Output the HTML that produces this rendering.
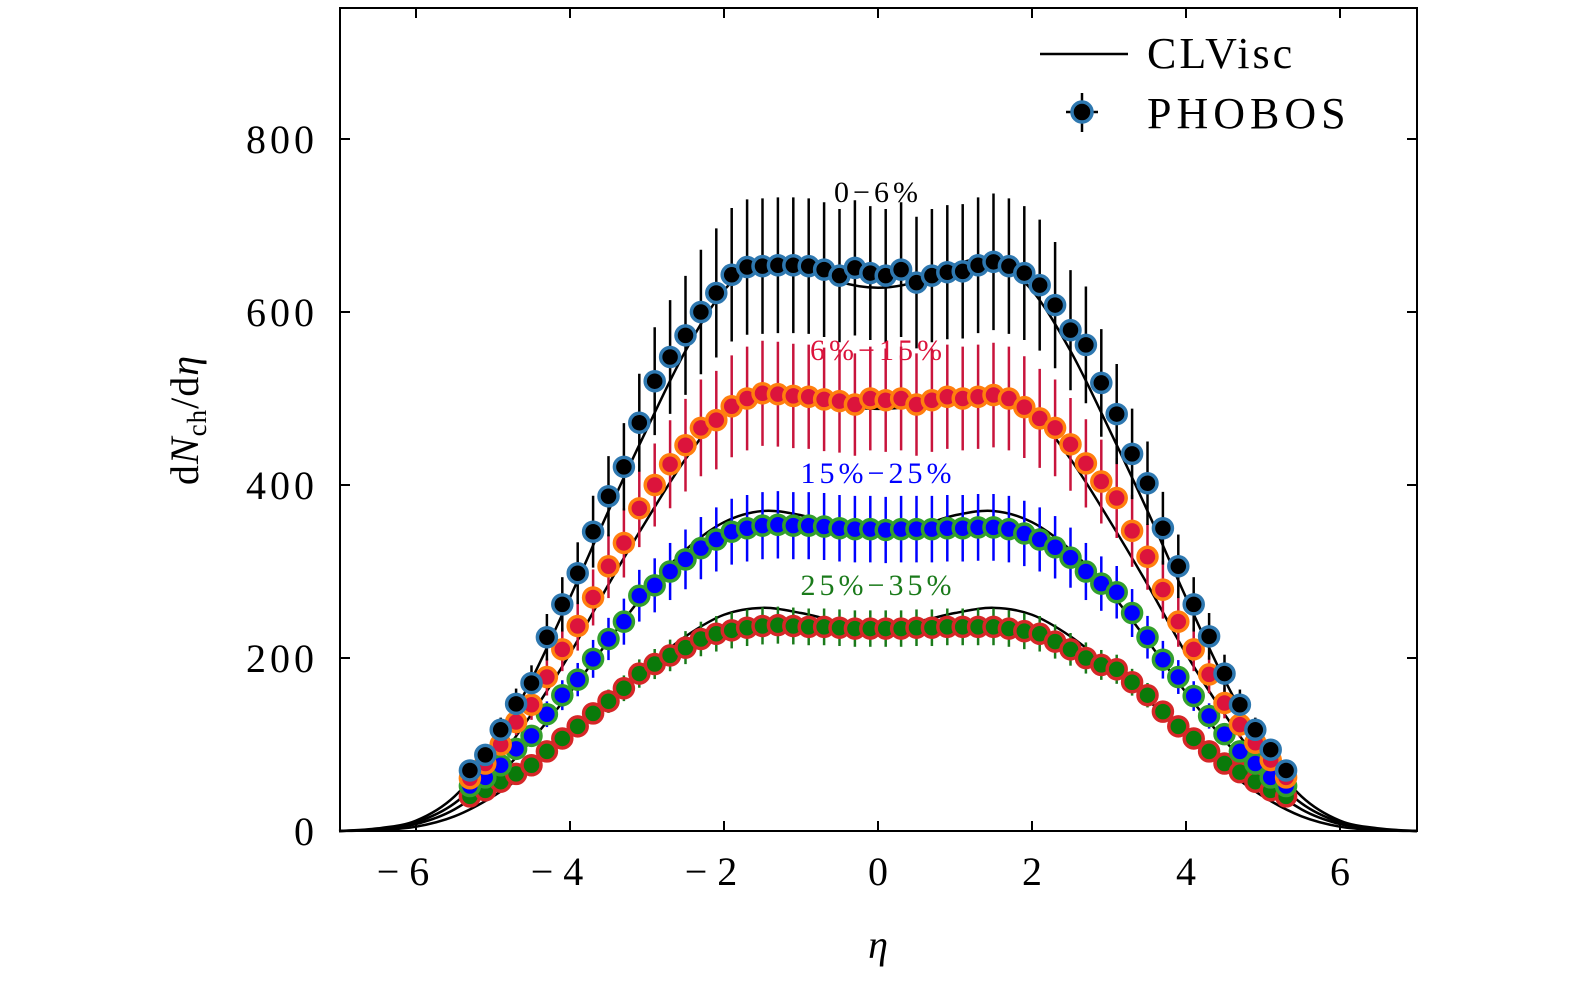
<!DOCTYPE html>
<html><head><meta charset="utf-8"><style>
body{margin:0;background:#fff}
svg{display:block;font-family:"Liberation Serif",serif}
</style></head><body>
<svg id="chart" width="1575" height="984" viewBox="0 0 1575 984" xmlns="http://www.w3.org/2000/svg">
<g id="curves"></g>
<g id="data"></g>
<rect x="340" y="8" width="1077" height="823" fill="none" stroke="#000" stroke-width="2"/>
<g id="axes"></g>
<text transform="translate(198,420) rotate(-90)" text-anchor="middle" font-size="40" letter-spacing="1">d<tspan font-style="italic">N</tspan><tspan font-size="27" dy="8">ch</tspan><tspan dy="-8">/d</tspan><tspan font-style="italic">η</tspan></text>
<text x="878" y="958" text-anchor="middle" font-size="40" font-style="italic">η</text>
<text x="878" y="202" text-anchor="middle" font-size="30" letter-spacing="4" fill="#000">0−6%</text>
<text x="878" y="360" text-anchor="middle" font-size="30" letter-spacing="4" fill="#dc143c">6%−15%</text>
<text x="878" y="483" text-anchor="middle" font-size="30" letter-spacing="4" fill="#0000ff">15%−25%</text>
<text x="878" y="595" text-anchor="middle" font-size="30" letter-spacing="4" fill="#1a7a1a">25%−35%</text>
<g>
<line x1="1040" y1="54" x2="1128" y2="54" stroke="#000" stroke-width="2.5"/>
<text x="1147" y="68" font-size="44" letter-spacing="3">CLVisc</text>
<line x1="1082" y1="93" x2="1082" y2="132" stroke="#000" stroke-width="2.5"/>
<line x1="1066" y1="112" x2="1098" y2="112" stroke="#000" stroke-width="2.5"/>
<circle cx="1082" cy="112" r="10" fill="#000" stroke="#2e78b0" stroke-width="3.5"/>
<text x="1147" y="128" font-size="44" letter-spacing="5">PHOBOS</text>
</g>
</svg>
<script>
const etaData=[];for(let i=0;i<54;i++)etaData.push(+(-5.3+0.2*i).toFixed(1));
const black=[70,88,117,147,171,224,262,298,346,387,421,472,520,548,573,600,622,643,652,653,654,654,653,649,642,651,645,642,649,634,642,646,647,654,658,653,645,631,608,579,562,518,482,436,402,350,306,262,225,182,146,117,94,70];
const red=[61,78,100,126,146,178,210,237,270,306,333,373,400,424,446,466,475,491,500,506,505,503,502,499,497,493,500,498,500,493,498,502,500,502,504,500,490,477,466,447,425,404,385,347,317,279,242,210,181,148,123,102,82,62];
const blue=[52,62,76,95,110,135,157,175,199,222,242,272,284,300,314,327,337,346,350,353,354,353,353,352,350,349,349,348,349,349,349,350,350,351,351,349,344,337,328,316,300,286,276,252,224,198,178,156,133,112,92,78,62,52];
const green=[40,47,57,66,76,92,107,121,136,150,165,182,193,203,212,222,228,232,235,237,238,237,236,236,235,234,234,234,234,235,235,236,236,236,236,234,231,228,219,210,200,192,187,172,157,138,121,107,92,78,68,57,47,40];
const errFrac=[0.12,0.12,0.11,0.09];
const etaCurve=[];for(let i=0;i<=28;i++)etaCurve.push(-7+0.5*i);
const halfC=[[0,3,12,40,95,175,270,370,465,555,625,660,655,635,628],[0,2,10,32,75,135,205,285,360,430,485,510,505,492,488],[0,2,8,25,58,105,160,220,278,325,357,370,365,352,348],[0,1,5,17,40,72,110,152,190,225,250,258,252,242,238]];
const curves=halfC.map(h=>h.concat(h.slice(0,14).reverse()));
const xTicks=[-6,-4,-2,0,2,4,6], yTicks=[0,200,400,600,800];
const X=v=>878+77*v, Y=v=>831-0.865*v;
const NS='http://www.w3.org/2000/svg';
function mk(t,a,p){const e=document.createElementNS(NS,t);for(const k in a)e.setAttribute(k,a[k]);p.appendChild(e);return e;}
const ax=document.getElementById('axes');
xTicks.forEach(t=>{
 const l=mk('line',{x1:X(t),x2:X(t),y1:831,y2:821,stroke:'#000','stroke-width':2},ax);
 
 
 const l2=mk('line',{x1:X(t),x2:X(t),y1:8,y2:18,stroke:'#000','stroke-width':2},ax);
 
 
 const tx=mk('text',{x:X(t)-(t<0?8:0),y:885,'text-anchor':'middle','font-size':40,'letter-spacing':(t<0?10:0)},ax);
 tx.textContent=(t<0?'−':'')+Math.abs(t);
 
 
});
yTicks.forEach(t=>{
 const l=mk('line',{x1:340,x2:350,y1:Y(t),y2:Y(t),stroke:'#000','stroke-width':2},ax);
 
 
 const l2=mk('line',{x1:1407,x2:1417,y1:Y(t),y2:Y(t),stroke:'#000','stroke-width':2},ax);
 
 
 const tx=mk('text',{x:318,y:Y(t)+14,'text-anchor':'end','font-size':40,'letter-spacing':4},ax);
 tx.textContent=t;
 
 
});
const cg=document.getElementById('curves');
curves.forEach((c,ci)=>{
 const p=etaCurve.map((e,i)=>[X(e),Y(c[i])]);
 let d='M'+p[0][0]+','+p[0][1];
 for(let i=0;i<p.length-1;i++){const p0=p[Math.max(i-1,0)],p1=p[i],p2=p[i+1],p3=p[Math.min(i+2,p.length-1)];
  d+=' C'+(p1[0]+(p2[0]-p0[0])/6)+','+(p1[1]+(p2[1]-p0[1])/6)+' '+(p2[0]-(p3[0]-p1[0])/6)+','+(p2[1]-(p3[1]-p1[1])/6)+' '+p2[0]+','+p2[1];}
 const path=mk('path',{d:d,fill:'none',stroke:'#000','stroke-width':2.5},cg);
 
 
});
const dg=document.getElementById('data');
const series=[[black,'#000','#2e78b0','#000'],[red,'#dc143c','#ff7f0e','#c8143c'],[blue,'#0000ff','#33a02c','#0000ff'],[green,'#0a7a0a','#d62728','#1a7a1a']];
series.slice().reverse().forEach(([vals,fill,edge,ec],ri)=>{
 const si=3-ri;
 vals.forEach((v,i)=>{const e=v*errFrac[si];
  const b=mk('line',{x1:X(etaData[i]),x2:X(etaData[i]),y1:Y(v-e),y2:Y(v+e),stroke:ec,'stroke-width':2.5},dg);
  
  
 });
});
series.slice().reverse().forEach(([vals,fill,edge])=>{
 vals.forEach((v,i)=>{
  const c=mk('circle',{cx:X(etaData[i]),cy:Y(v),r:9.5,fill:fill,stroke:edge,'stroke-width':3.5},dg);
  
  
 });
});
</script>
</body></html>
